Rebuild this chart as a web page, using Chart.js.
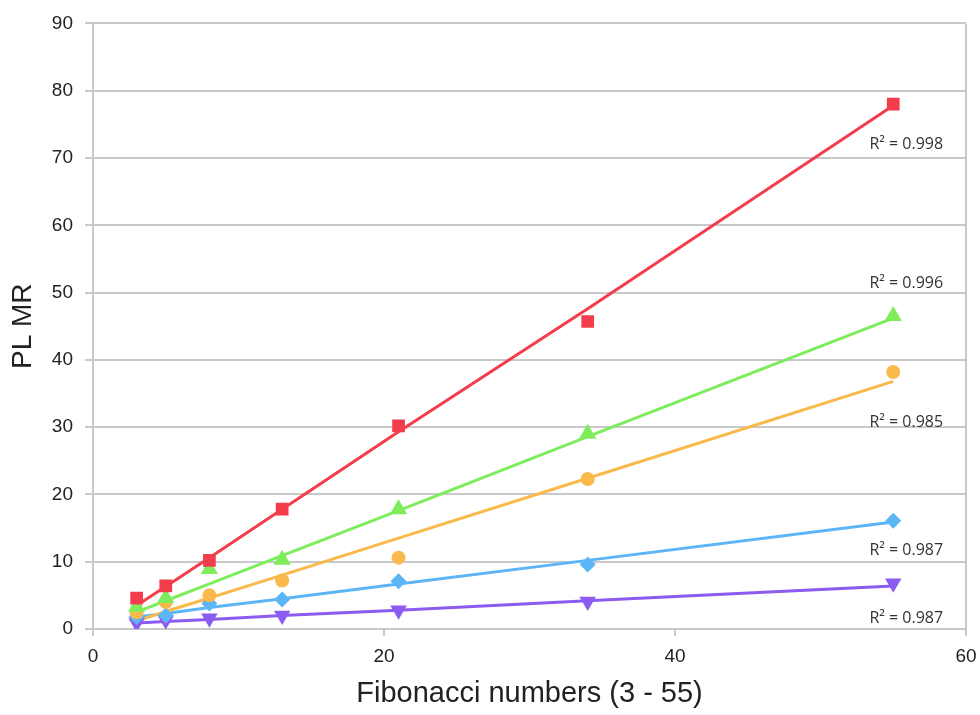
<!DOCTYPE html>
<html lang="en">
  <head>
    <meta charset="UTF-8" />
    <title>PL MR vs Fibonacci numbers</title>
    <script src="https://cdn.jsdelivr.net/npm/chart.js@4.4.1/dist/chart.umd.min.js"></script>
    <style>
      body {
        margin: 0;
        background: #fff;
      }

      #wrap {
        width: 980px;
        height: 715px;
      }
    </style>
  </head>
  <body>
    <div id="wrap"><canvas id="chart"></canvas></div>

    <script>
      // x values: Fibonacci numbers
      const fib = [3, 5, 8, 13, 21, 34, 55];

      // measured PL MR
      const red = [4.6, 6.4, 10.2, 17.8, 30.2, 45.7, 78.0];
      const green = [3.3, 4.6, 8.9, 10.3, 17.8, 29.0, 46.5];
      const orange = [2.5, 4.0, 5.0, 7.2, 10.6, 22.3, 38.2];
      const blue = [1.8, 2.0, 3.8, 4.4, 7.1, 9.6, 16.1];
      const purple = [0.9, 1.3, 1.6, 2.0, 2.8, 4.1, 6.8];

      // trend lines
      const redTrend = [3.5, 6.3, 10.6, 17.8, 29.3, 47.6, 77.8];
      const greenTrend = [2.5, 4.2, 6.7, 10.9, 17.6, 28.6, 46.2];
      const orangeTrend = [1.2, 2.6, 4.6, 8.0, 13.5, 22.4, 36.8];
      const blueTrend = [1.8, 2.3, 3.2, 4.5, 6.7, 10.2, 15.9];
      const purpleTrend = [0.9, 1.1, 1.4, 2.0, 2.8, 4.2, 6.4];

      const r2Labels = ["R² = 0.998", "R² = 0.996", "R² = 0.985", "R² = 0.987", "R² = 0.987"];

      const colors = ["#f43d4c", "#7fec5b", "#f9b94b", "#5cb5f6", "#8c5bf0"];
      const shapes = ["rect", "triangle", "circle", "rectRot", "triangle"];
      const rotations = [0, 0, 0, 0, 180];
      const radii = [9, 10, 7, 8, 9.5];
      // pixel offsets of the R² text from the end of each trend line
      const labelOffsets = [39, -35, 41, 28, 33];

      const series = [red, green, orange, blue, purple];
      const trends = [redTrend, greenTrend, orangeTrend, blueTrend, purpleTrend];

      function pts(ys) {
        return fib.map((x, i) => ({ x: x, y: ys[i] }));
      }

      const datasets = [];
      series.forEach((s, i) => {
        datasets.push({
          type: "scatter",
          data: pts(s),
          backgroundColor: colors[i],
          borderColor: colors[i],
          borderWidth: 0,
          pointStyle: shapes[i],
          rotation: rotations[i],
          pointRadius: radii[i],
          pointHoverRadius: radii[i],
          order: 0,
        });
      });
      trends.forEach((t, i) => {
        datasets.push({
          type: "line",
          data: pts(t),
          borderColor: colors[i],
          borderWidth: 3,
          pointRadius: 0,
          fill: false,
          tension: 0,
          order: 1,
        });
      });

      const r2Plugin = {
        id: "r2",
        afterDatasetsDraw(chart) {
          const ctx = chart.ctx;
          const xs = chart.scales.x;
          const ys = chart.scales.y;
          ctx.save();
          ctx.font = "16px 'Open Sans'";
          ctx.fillStyle = "#333";
          ctx.textAlign = "center";
          ctx.textBaseline = "middle";
          trends.forEach((t, i) => {
            const px = xs.getPixelForValue(fib[fib.length - 1]) + 13;
            const py = ys.getPixelForValue(t[t.length - 1]) + labelOffsets[i];
            ctx.fillText(r2Labels[i], px, py);
          });
          ctx.restore();
        },
      };

      const gridGray = "#c9c9c9";

      new Chart(document.getElementById("chart"), {
        type: "scatter",
        data: { datasets: datasets },
        plugins: [r2Plugin],
        options: {
          responsive: true,
          maintainAspectRatio: false,
          animation: false,
          layout: { padding: { top: 21, right: 14, left: 0, bottom: 0 } },
          plugins: {
            legend: { display: false },
            tooltip: { enabled: false },
          },
          scales: {
            x: {
              type: "linear",
              min: 0,
              max: 60,
              ticks: {
                stepSize: 20,
                color: "#222",
                font: { family: "'Liberation Sans', Arial", size: 19 },
                padding: 9,
              },
              grid: {
                color: (c) => (c.tick && c.tick.value === 60 ? gridGray : "rgba(0,0,0,0)"),
                tickColor: gridGray,
                tickLength: 7,
                lineWidth: 2,
              },
              border: { color: gridGray, width: 2 },
              title: {
                display: true,
                text: "Fibonacci numbers (3 - 55)",
                color: "#222",
                font: { family: "'Liberation Sans', Arial", size: 29 },
                padding: { top: 4 },
              },
              afterFit(scale) {
                scale.height = 86;
                scale.paddingRight = 0;
              },
            },
            y: {
              min: 0,
              max: 90,
              ticks: {
                stepSize: 10,
                color: "#222",
                font: { family: "'Liberation Sans', Arial", size: 19 },
                padding: 12,
              },
              grid: {
                color: gridGray,
                tickColor: gridGray,
                tickLength: 8,
                lineWidth: 2,
              },
              border: { color: gridGray, width: 2 },
              title: {
                display: true,
                text: "PL MR",
                color: "#222",
                font: { family: "'Liberation Sans', Arial", size: 28 },
                padding: { top: 6, bottom: 0 },
              },
              afterFit(scale) {
                scale.width = 93;
              },
            },
          },
        },
      });
    </script>
  </body>
</html>
